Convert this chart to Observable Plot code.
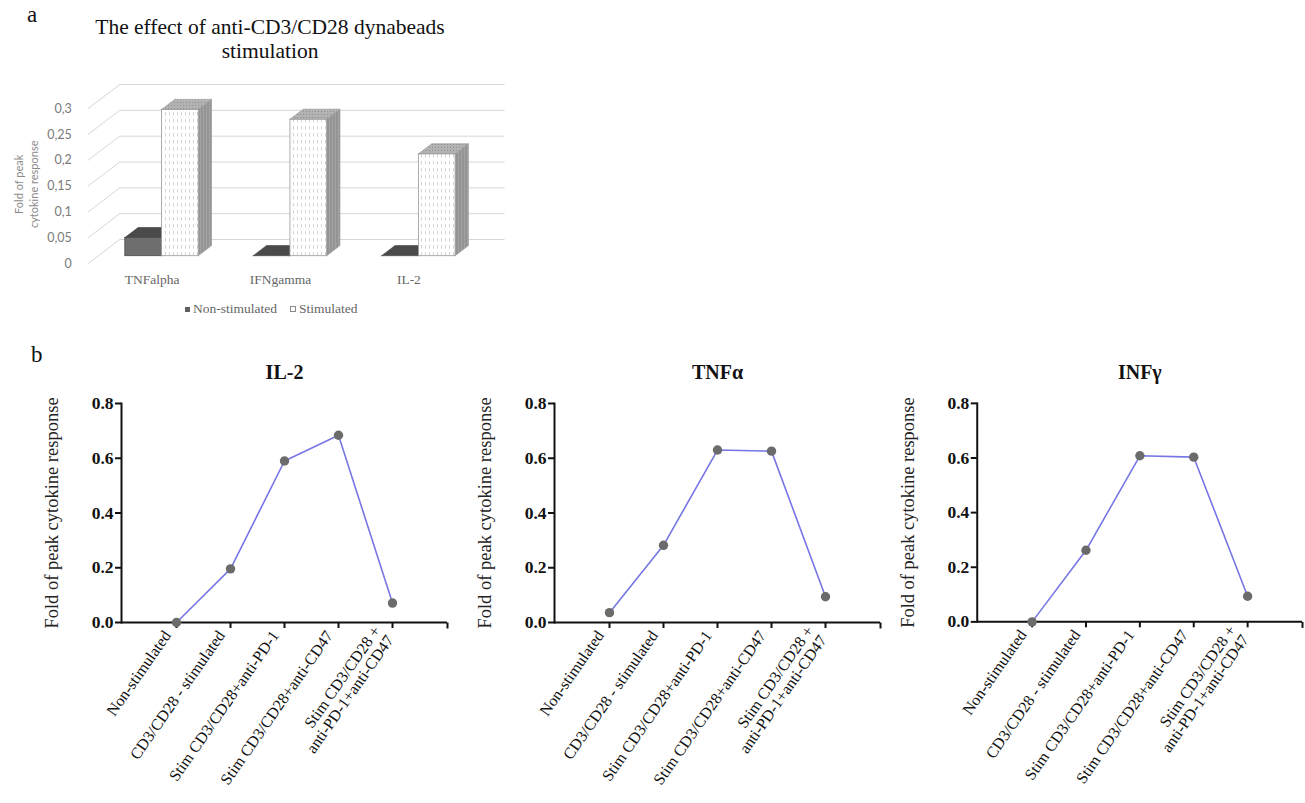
<!DOCTYPE html>
<html><head><meta charset="utf-8">
<script src="https://cdn.jsdelivr.net/npm/d3@7"></script>
<script src="https://cdn.jsdelivr.net/npm/@observablehq/plot@0.6"></script>
<style>
html,body{margin:0;padding:0;background:#fff;overflow:hidden;}
body{width:1305px;height:803px;position:relative;font-family:"Liberation Serif","Times New Roman",serif;}
.abs{position:absolute;}
.panelLetter{font-size:23px;color:#111;}
.titleA{font-size:21.5px;color:#111;text-align:center;line-height:24px;}
.legend{font-size:13.5px;color:#666;white-space:nowrap;display:flex;align-items:center;}
.sq{display:inline-block;width:5px;height:5px;margin-right:3px;}
</style></head><body>
<svg width="0" height="0" style="position:absolute;left:0;top:0">
<defs>
<pattern id="stimFront" width="4" height="7" patternUnits="userSpaceOnUse">
  <rect width="4" height="7" fill="#ffffff"/>
  <line x1="1.5" y1="0" x2="1.5" y2="3.5" stroke="#d4d4d4" stroke-width="1"/>
</pattern>
<pattern id="stimTop" width="3" height="3" patternUnits="userSpaceOnUse">
  <rect width="3" height="3" fill="#b3b3b3"/>
  <rect x="0" y="0" width="1" height="1" fill="#8f8f8f"/>
</pattern>
<pattern id="stimSide" width="3" height="4" patternUnits="userSpaceOnUse">
  <rect width="3" height="4" fill="#a3a3a3"/>
  <line x1="1" y1="0" x2="1" y2="4" stroke="#858585" stroke-width="1"/>
</pattern>
</defs>
</svg>

<div class="abs panelLetter" style="left:27px;top:2px;">a</div>
<div class="abs titleA" style="left:70px;top:15px;width:400px;">The effect of anti-CD3/CD28 dynabeads<br>stimulation</div>
<div id="chartA" class="abs" style="left:0;top:0;"></div>
<div class="abs legend" style="left:185px;top:301px;">
  <span class="sq" style="background:#5f5f5f;"></span><span>Non-stimulated</span>
  <span class="sq" style="background:#fff;border:1px solid #8a8a8a;width:4px;height:4px;margin-left:13px;"></span><span>Stimulated</span>
</div>

<div class="abs panelLetter" style="left:31px;top:342px;">b</div>
<div id="b1" class="abs" style="left:0;top:340px;"></div>
<div id="b2" class="abs" style="left:433px;top:340px;"></div>
<div id="b3" class="abs" style="left:856px;top:340px;"></div>

<script>
// ---------- Panel a data ----------
const cytokinesA = ["TNFalpha", "IFNgamma", "IL-2"];
const seriesA = ["Non-stimulated", "Stimulated"];
const nonStimulated = [0.035, 0.0, 0.0];
const stimulated = [0.283, 0.264, 0.197];
const yTicksA = [0, 0.05, 0.1, 0.15, 0.2, 0.25, 0.3];
const yTickLabelsA = ["0", "0,05", "0,1", "0,15", "0,2", "0,25", "0,3"];
const yTitleA = "Fold of peak\ncytokine response";

// ---------- Panel b data ----------
const conditions = [
  "Non-stimulated",
  "CD3/CD28 - stimulated",
  "Stim CD3/CD28+anti-PD-1",
  "Stim CD3/CD28+anti-CD47",
  "Stim CD3/CD28 +\nanti-PD-1+anti-CD47"
];
const il2Values = [0.0, 0.196, 0.59, 0.684, 0.071];
const tnfaValues = [0.036, 0.282, 0.63, 0.626, 0.094];
const infgValues = [0.0, 0.262, 0.608, 0.603, 0.094];
const yTicksB = [0, 0.2, 0.4, 0.6, 0.8];
const panelTitlesB = ["IL-2", "TNFα", "INFγ"];
const yTitleB = "Fold of peak cytokine response";

const SERIF = "'Liberation Serif', 'Times New Roman', serif";
const SANS = "Lato, 'Liberation Sans', sans-serif";

// ---------- Panel a (pseudo-3D clustered columns) ----------
const A = {width: 520, height: 330, mLeft: 87.3, mRight: 47.4, mTop: 108.3, mBottom: 66.7};
const xDomA = [0, cytokinesA.length], yDomA = [0, 0.3];
const kx = (A.width - A.mLeft - A.mRight) / (xDomA[1] - xDomA[0]);
const ky = (A.height - A.mTop - A.mBottom) / (yDomA[1] - yDomA[0]);
// depth offsets given in pixels, converted to data units
const wall = {dx: 32 / kx, dy: 24.3 / ky};
const front = {dx: 10 / kx, dy: 7.6 / ky};
const depth = {dx: 13.3 / kx, dy: 10.1 / ky};
const barW = 36.7 / kx;

const bars = [];
cytokinesA.forEach((c, i) => {
  [nonStimulated, stimulated].forEach((vals, s) => {
    const x1 = i + 0.5 + (s - 1) * barW + front.dx;
    bars.push({key: c + s, series: seriesA[s], s, x1, x2: x1 + barW, y0: front.dy, y1: vals[i] + front.dy});
  });
});
const topPts = [], sidePts = [];
for (const b of bars) {
  topPts.push({key: b.key, s: b.s, x: b.x1, lo: b.y1, hi: b.y1});
  topPts.push({key: b.key, s: b.s, x: b.x1 + depth.dx, lo: b.y1, hi: b.y1 + depth.dy});
  topPts.push({key: b.key, s: b.s, x: b.x2, lo: b.y1, hi: b.y1 + depth.dy});
  topPts.push({key: b.key, s: b.s, x: b.x2 + depth.dx, lo: b.y1 + depth.dy, hi: b.y1 + depth.dy});
  sidePts.push({key: b.key, s: b.s, x: b.x2, lo: b.y0, hi: b.y1});
  sidePts.push({key: b.key, s: b.s, x: b.x2 + depth.dx, lo: b.y0 + depth.dy, hi: b.y1 + depth.dy});
}
const styleFaces = [
  {front: "#6e6e6e", top: "#4a4a4a", side: "#555555", stroke: "#4a4a4a"},
  {front: "url(#stimFront)", top: "url(#stimTop)", side: "url(#stimSide)", stroke: "#9a9a9a"}
];
const barMarks = [];
for (const s of [0, 1]) {
  const st = styleFaces[s];
  barMarks.push(
    Plot.areaY(sidePts.filter(d => d.s === s), {x: "x", y1: "lo", y2: "hi", z: "key", fill: st.side, stroke: st.stroke, strokeWidth: 0.7}),
    Plot.areaY(topPts.filter(d => d.s === s), {x: "x", y1: "lo", y2: "hi", z: "key", fill: st.top, stroke: st.stroke, strokeWidth: 0.7}),
    Plot.rect(bars.filter(d => d.s === s), {x1: "x1", x2: "x2", y1: "y0", y2: "y1", fill: st.front, stroke: st.stroke, strokeWidth: 0.8})
  );
}

const chartA = Plot.plot({
  width: A.width, height: A.height,
  marginLeft: A.mLeft, marginRight: A.mRight, marginTop: A.mTop, marginBottom: A.mBottom,
  style: {background: "transparent", overflow: "visible"},
  x: {domain: xDomA, axis: null},
  y: {domain: yDomA, axis: null},
  marks: [
    Plot.link(yTicksA, {x1: 0, x2: wall.dx, y1: d => d, y2: d => d + wall.dy, stroke: "#d6d6d6", strokeWidth: 1}),
    Plot.ruleY(yTicksA, {y: d => d + wall.dy, x1: wall.dx, x2: xDomA[1] + wall.dx, stroke: "#d6d6d6", strokeWidth: 1}),
    ...barMarks,
    Plot.text(yTicksA, {x: 0, y: d => d, text: (d, i) => yTickLabelsA[i], textAnchor: "end", dx: -16,
      fontSize: 12.5, fill: "#7a7a7a", fontFamily: SANS}),
    Plot.text(cytokinesA, {x: (d, i) => i + 0.5, y: 0, dy: 16, fontSize: 13.5, fill: "#666", fontFamily: SERIF}),
    Plot.text([yTitleA], {frameAnchor: "left", rotate: -90, textAnchor: "middle", lineAnchor: "middle",
      dx: -62, dy: -2, fontSize: 11, fill: "#8a8a8a", lineHeight: 1.3, fontFamily: SANS})
  ]
});
document.getElementById("chartA").appendChild(chartA);

// ---------- Panel b (three line charts) ----------
const endTick = {draw(ctx) { ctx.moveTo(0, 0); ctx.lineTo(0, 6); }};
function linePanel(title, values) {
  const data = conditions.map((c, i) => ({c, v: values[i]}));
  return Plot.plot({
    width: 450, height: 460,
    marginLeft: 121, marginRight: 3, marginTop: 63, marginBottom: 178,
    style: {fontFamily: SERIF, background: "transparent", overflow: "visible", color: "#111"},
    x: {type: "point", domain: conditions, padding: 1, label: null},
    y: {domain: [0, 0.8], label: null},
    marks: [
      Plot.axisY({ticks: yTicksB, tickFormat: d => d.toFixed(1), tickSize: 6, tickPadding: 2,
        fontSize: 17.5, fontWeight: "bold", fontFamily: SERIF, strokeWidth: 2, label: null}),
      // tick marks only
      Plot.axisX({tickSize: 6, strokeWidth: 2, tickFormat: () => "", label: null}),
      // rotated tick labels only
      Plot.axisX({tickSize: 0, tickPadding: 10, dx: -9, tickRotate: -55, fontSize: 16, fontFamily: SERIF, label: null}),
      Plot.ruleY([0], {stroke: "#111", strokeWidth: 2}),
      Plot.frame({anchor: "left", stroke: "#111", strokeWidth: 2}),
      Plot.dot([0], {frameAnchor: "bottom-right", symbol: endTick, fill: "none", stroke: "#111", strokeWidth: 2}),
      Plot.line(data, {x: "c", y: "v", stroke: "#7676e4", strokeWidth: 1.6}),
      Plot.dot(data, {x: "c", y: "v", r: 4.7, fill: "#6b6b6b", stroke: "none"}),
      Plot.text([title], {frameAnchor: "top", dy: -31, lineAnchor: "middle", textAnchor: "middle",
        fontSize: 20, fontWeight: "bold", fontFamily: SERIF}),
      Plot.text([yTitleB], {frameAnchor: "left", rotate: -90, textAnchor: "middle", lineAnchor: "middle",
        dx: -69, fontSize: 18.5, fill: "#222", fontFamily: SERIF})
    ]
  });
}
document.getElementById("b1").appendChild(linePanel(panelTitlesB[0], il2Values));
document.getElementById("b2").appendChild(linePanel(panelTitlesB[1], tnfaValues));
document.getElementById("b3").appendChild(linePanel(panelTitlesB[2], infgValues));
</script>
</body></html>
